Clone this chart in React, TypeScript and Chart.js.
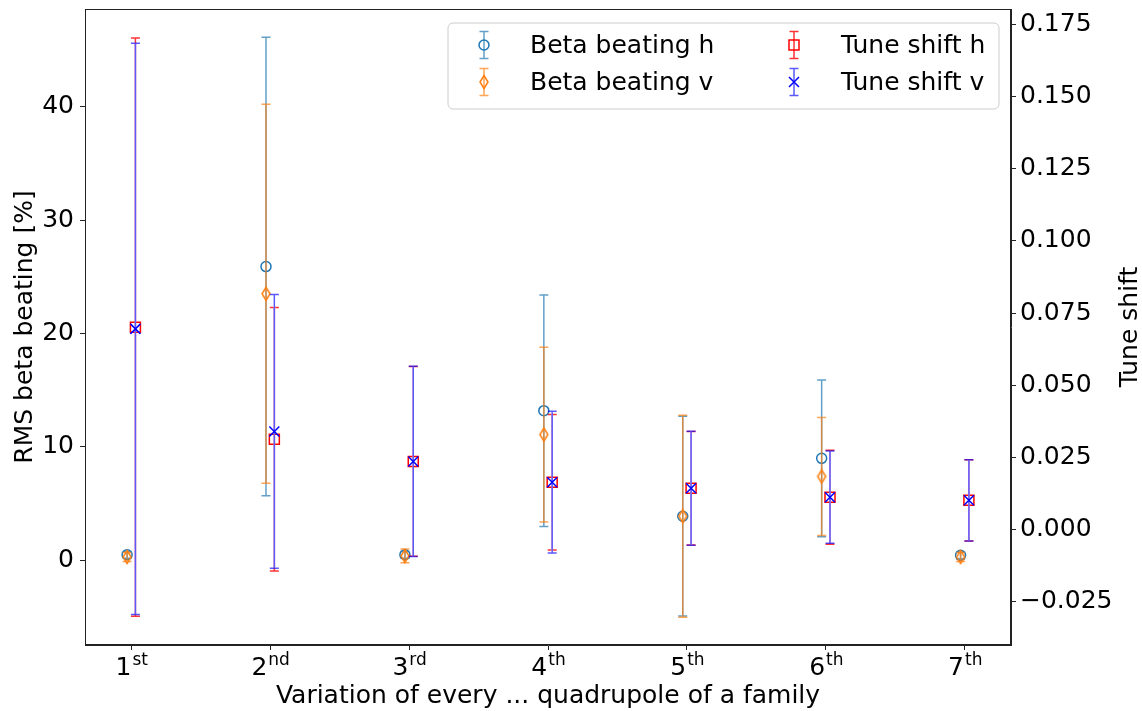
import React, { useEffect, useRef } from 'react';
import { Chart, registerables } from 'chart.js';

Chart.register(...registerables);

const W = 1142;
const H = 711;
const FONT = "'DejaVu Sans', 'Liberation Sans', sans-serif";

// ---------- data ----------
const tickMain = ['1', '2', '3', '4', '5', '6', '7'];
const tickSup = ['st', 'nd', 'rd', 'th', 'th', 'th', 'th'];
const xPositions = [0, 1, 2, 3, 4, 5, 6];

const betaH = [0.5, 25.9, 0.5, 13.2, 3.9, 9.0, 0.45];
const betaHErr = [0.3, 20.2, 0.3, 10.2, 8.8, 6.9, 0.3];
const betaV = [0.3, 23.5, 0.4, 11.1, 3.9, 7.4, 0.3];
const betaVErr = [0.4, 16.7, 0.6, 7.7, 8.9, 5.2, 0.4];
const tuneH = [0.0701, 0.0312, 0.0235, 0.0163, 0.0142, 0.0111, 0.01];
const tuneHErr = [0.1003, 0.0457, 0.0329, 0.0235, 0.0197, 0.0163, 0.0141];
const tuneV = [0.0695, 0.0339, 0.0235, 0.0163, 0.0142, 0.0111, 0.01];
const tuneVErr = [0.0991, 0.0475, 0.033, 0.0246, 0.0198, 0.016, 0.0141];

const leftTicks = [0, 10, 20, 30, 40];
const rightTicks = [-0.025, 0, 0.025, 0.05, 0.075, 0.1, 0.125, 0.15, 0.175];

const legendLabels = ['Beta beating h', 'Beta beating v', 'Tune shift h', 'Tune shift v'];

const C_BH = '#1f77b4';
const C_BV = '#ff7f0e';
const C_TH = '#ff0000';
const C_TV = '#0000ff';
const colors = [C_BH, C_BV, C_TH, C_TV];
const markers = ['circle', 'diamond', 'square', 'x'];
const barAlpha = [0.7, 0.7, 0.8, 0.65];

const fmtMinus = (s: string) => s.replace('-', '\u2212');

function drawMarker(ctx: CanvasRenderingContext2D, kind: string, x: number, y: number, color: string) {
  ctx.save();
  ctx.strokeStyle = color;
  ctx.lineWidth = 1.5;
  ctx.beginPath();
  if (kind === 'circle') {
    ctx.arc(x, y, 5, 0, Math.PI * 2);
  } else if (kind === 'diamond') {
    ctx.moveTo(x, y - 6.5);
    ctx.lineTo(x + 4, y);
    ctx.lineTo(x, y + 6.5);
    ctx.lineTo(x - 4, y);
    ctx.closePath();
  } else if (kind === 'square') {
    ctx.rect(x - 5, y - 5, 10, 10);
  } else {
    ctx.moveTo(x - 5, y - 5);
    ctx.lineTo(x + 5, y + 5);
    ctx.moveTo(x + 5, y - 5);
    ctx.lineTo(x - 5, y + 5);
  }
  ctx.stroke();
  ctx.restore();
}

function makeDiamond(color: string) {
  const c = document.createElement('canvas');
  c.width = 12;
  c.height = 16;
  const ctx = c.getContext('2d')!;
  drawMarker(ctx, 'diamond', 6, 8, color);
  return c;
}

function drawErr(ctx: CanvasRenderingContext2D, x: number, y0: number, y1: number, color: string, alpha: number, cover: boolean) {
  ctx.save();
  ctx.lineWidth = 1.5;
  if (cover) {
    // white underlay so that this bar hides any bar below it
    ctx.strokeStyle = '#fff';
    ctx.beginPath();
    ctx.moveTo(x, y0);
    ctx.lineTo(x, y1);
    ctx.stroke();
  }
  ctx.globalAlpha = alpha;
  ctx.strokeStyle = color;
  ctx.beginPath();
  ctx.moveTo(x, y0);
  ctx.lineTo(x, y1);
  ctx.moveTo(x - 4.5, y0);
  ctx.lineTo(x + 4.5, y0);
  ctx.moveTo(x - 4.5, y1);
  ctx.lineTo(x + 4.5, y1);
  ctx.stroke();
  ctx.restore();
}

const errorBarPlugin = {
  id: 'errbars',
  beforeDatasetDraw(chart: any, args: any) {
    const ds = chart.data.datasets[args.index];
    const ys = chart.scales[ds.yAxisID];
    const ctx = chart.ctx;
    args.meta.data.forEach((pt: any, i: number) => {
      const v = ds.data[i].y;
      const e = ds.err[i];
      drawErr(ctx, pt.x, ys.getPixelForValue(v + e), ys.getPixelForValue(v - e), ds.borderColor, ds.barAlpha, !!ds.coverBars);
    });
  },
};

const decorPlugin = {
  id: 'decor',
  afterDraw(chart: any) {
    const ctx: CanvasRenderingContext2D = chart.ctx;
    const a = chart.chartArea;
    const xs = chart.scales.x;
    ctx.save();
    // frame
    ctx.strokeStyle = '#222';
    ctx.lineWidth = 1;
    ctx.strokeRect(a.left + 0.5, a.top + 0.5, a.right - a.left - 1, a.bottom - a.top - 1);

    // x tick labels with superscript
    ctx.fillStyle = '#000';
    ctx.textBaseline = 'alphabetic';
    ctx.textAlign = 'left';
    xPositions.forEach((p, i) => {
      const px = xs.getPixelForValue(p);
      ctx.font = `25px ${FONT}`;
      const wm = ctx.measureText(tickMain[i]).width;
      ctx.font = `17px ${FONT}`;
      const wsup = ctx.measureText(tickSup[i]).width;
      const start = px - (wm + wsup) / 2;
      ctx.font = `25px ${FONT}`;
      ctx.fillText(tickMain[i], start, 675);
      ctx.font = `17px ${FONT}`;
      ctx.fillText(tickSup[i], start + wm + 1, 665);
    });

    // axis titles
    ctx.font = `25px ${FONT}`;
    ctx.textAlign = 'center';
    ctx.fillText('Variation of every ... quadrupole of a family', (a.left + a.right) / 2, 703);
    const cy = (a.top + a.bottom) / 2;
    ctx.save();
    ctx.translate(32, cy);
    ctx.rotate(-Math.PI / 2);
    ctx.fillText('RMS beta beating [%]', 0, 0);
    ctx.restore();
    ctx.save();
    ctx.translate(1137, cy);
    ctx.rotate(-Math.PI / 2);
    ctx.fillText('Tune shift', 0, 0);
    ctx.restore();

    // legend
    const lx = 448, ly = 23, lw = 551, lh = 86;
    ctx.beginPath();
    const r = 5;
    ctx.moveTo(lx + r, ly);
    ctx.arcTo(lx + lw, ly, lx + lw, ly + lh, r);
    ctx.arcTo(lx + lw, ly + lh, lx, ly + lh, r);
    ctx.arcTo(lx, ly + lh, lx, ly, r);
    ctx.arcTo(lx, ly, lx + lw, ly, r);
    ctx.closePath();
    ctx.fillStyle = 'rgba(255,255,255,0.8)';
    ctx.fill();
    ctx.strokeStyle = '#cccccc';
    ctx.lineWidth = 1;
    ctx.stroke();

    const glyphX = [484, 484, 794, 794];
    const textX = [530, 530, 841, 841];
    const baseY = [53, 90, 53, 90];
    ctx.textAlign = 'left';
    ctx.font = `25px ${FONT}`;
    for (let i = 0; i < 4; i++) {
      const gy = baseY[i] - 8;
      drawErr(ctx, glyphX[i], gy - 13.5, gy + 13.5, colors[i], barAlpha[i], false);
      drawMarker(ctx, markers[i], glyphX[i], gy, colors[i]);
      ctx.fillStyle = '#000';
      ctx.fillText(legendLabels[i], textX[i], baseY[i]);
    }
    ctx.restore();
  },
};

const zeroPad = (s: any) => {
  s.paddingTop = 0;
  s.paddingBottom = 0;
  s.paddingLeft = 0;
  s.paddingRight = 0;
};

export default function App() {
  const ref = useRef<HTMLCanvasElement>(null);
  useEffect(() => {
    const canvas = ref.current!;
    const diamond = makeDiamond(C_BV);
    const mk = (vals: number[], off: number) => vals.map((v, i) => ({ x: xPositions[i] + off, y: v }));
    const chart = new Chart(canvas, {
      type: 'scatter',
      data: {
        datasets: [
          {
            label: legendLabels[0], data: mk(betaH, -0.03), yAxisID: 'y', err: betaHErr, barAlpha: barAlpha[0],
            pointStyle: 'circle', pointRadius: 5, pointBorderWidth: 1.5,
            borderColor: C_BH, backgroundColor: 'rgba(0,0,0,0)', order: 3,
          },
          {
            label: legendLabels[1], data: mk(betaV, -0.03), yAxisID: 'y', err: betaVErr, barAlpha: barAlpha[1],
            pointStyle: diamond, pointRadius: 6, pointBorderWidth: 1.5,
            borderColor: C_BV, backgroundColor: 'rgba(0,0,0,0)', order: 2,
          },
          {
            label: legendLabels[2], data: mk(tuneH, 0.03), yAxisID: 'y2', err: tuneHErr, barAlpha: barAlpha[2],
            pointStyle: 'rect', pointRadius: 7.07, pointBorderWidth: 1.5,
            borderColor: C_TH, backgroundColor: 'rgba(0,0,0,0)', order: 1,
          },
          {
            label: legendLabels[3], data: mk(tuneV, 0.03), yAxisID: 'y2', err: tuneVErr, barAlpha: barAlpha[3],
            coverBars: true,
            pointStyle: 'crossRot', pointRadius: 7.07, pointBorderWidth: 1.5,
            borderColor: C_TV, backgroundColor: 'rgba(0,0,0,0)', order: 0,
          },
        ] as any,
      },
      options: {
        responsive: false,
        animation: false,
        devicePixelRatio: 1,
        layout: { padding: { top: 9, left: 0, right: 0, bottom: 0 } },
        plugins: { legend: { display: false }, tooltip: { enabled: false }, title: { display: false } },
        scales: {
          x: {
            type: 'linear', min: -0.333, max: 6.333,
            afterBuildTicks: (s: any) => { s.ticks = xPositions.map((v) => ({ value: v })); },
            afterFit: (s: any) => { s.height = 66; zeroPad(s); },
            ticks: { display: false },
            grid: { display: true, drawOnChartArea: false, drawTicks: true, tickLength: 5, color: '#222', tickWidth: 1 },
            border: { display: true, color: '#222', width: 1 },
          },
          y: {
            type: 'linear', position: 'left', min: -7.45, max: 48.6,
            afterBuildTicks: (s: any) => { s.ticks = leftTicks.map((v) => ({ value: v })); },
            afterFit: (s: any) => { s.width = 85; zeroPad(s); },
            ticks: {
              font: { family: FONT, size: 25 }, color: '#000', padding: 6,
              callback: (v: any) => fmtMinus(String(v)),
            },
            grid: { display: true, drawOnChartArea: false, drawTicks: true, tickLength: 5, color: '#222' },
            border: { display: true, color: '#222', width: 1 },
          },
          y2: {
            type: 'linear', position: 'right', min: -0.0402, max: 0.1805,
            afterBuildTicks: (s: any) => { s.ticks = rightTicks.map((v) => ({ value: v })); },
            afterFit: (s: any) => { s.width = 131; zeroPad(s); },
            ticks: {
              font: { family: FONT, size: 25 }, color: '#000', padding: 4,
              callback: (v: any) => fmtMinus(Number(v).toFixed(3)),
            },
            grid: { display: true, drawOnChartArea: false, drawTicks: true, tickLength: 5, color: '#222' },
            border: { display: true, color: '#222', width: 1 },
          },
        },
      } as any,
      plugins: [errorBarPlugin, decorPlugin],
    });
    return () => chart.destroy();
  }, []);
  return (
    <div style={{ position: 'fixed', left: 0, top: 0, width: W, height: H, background: '#fff' }}>
      <canvas ref={ref} width={W} height={H} style={{ display: 'block', width: W, height: H }} />
    </div>
  );
}
